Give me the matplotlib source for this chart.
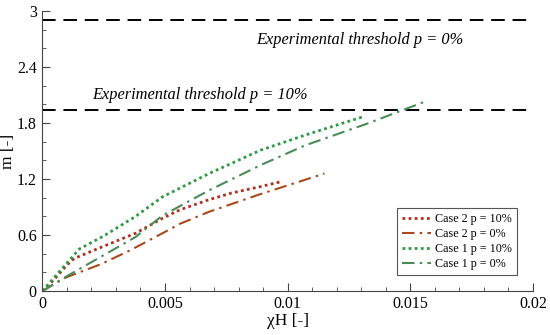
import numpy as np
import matplotlib.pyplot as plt
from matplotlib.ticker import MultipleLocator

case1_p10_x = [0, 0.0005, 0.001, 0.0015, 0.0025, 0.0038, 0.0049, 0.0068, 0.0089, 0.0107, 0.0131]
case1_p10_y = [0, 0.15, 0.30, 0.45, 0.59, 0.80, 1.01, 1.26, 1.51, 1.67, 1.87]

case1_p0_x = [0, 0.001, 0.0024, 0.0038, 0.0049, 0.0068, 0.0089, 0.0107, 0.0132, 0.0146, 0.0156]
case1_p0_y = [0, 0.16, 0.37, 0.58, 0.81, 1.08, 1.35, 1.56, 1.79, 1.93, 2.03]

case2_p10_x = [0, 0.0005, 0.001, 0.0013, 0.0024, 0.0038, 0.0049, 0.0056, 0.0068, 0.0077, 0.0089, 0.0097]
case2_p10_y = [0, 0.13, 0.28, 0.35, 0.47, 0.62, 0.78, 0.87, 0.98, 1.05, 1.12, 1.17]

case2_p0_x = [0, 0.0005, 0.001, 0.0024, 0.0036, 0.0049, 0.0056, 0.0068, 0.0089, 0.0108, 0.0115]
case2_p0_y = [0, 0.08, 0.15, 0.29, 0.44, 0.62, 0.72, 0.85, 1.04, 1.20, 1.26]

threshold_p0 = 2.90
threshold_p10 = 1.94

plt.rcParams['font.family'] = ['Liberation Serif', 'DejaVu Serif']

fig = plt.figure(figsize=(5.5, 3.35), dpi=100)
ax = fig.add_axes([0.077, 0.131, 0.892, 0.836])

ax.plot([0, 0.02], [threshold_p0, threshold_p0], color='black', lw=1.4, dashes=(7, 4))
ax.plot([0, 0.02], [threshold_p10, threshold_p10], color='black', lw=1.4, dashes=(7, 4))
ax.text(0.00872, 2.69, 'Experimental threshold p = 0%', style='italic', fontsize=11.8, va='center')
ax.text(0.00204, 2.10, 'Experimental threshold p = 10%', style='italic', fontsize=11.8, va='center')

ax.plot(case2_p10_x, case2_p10_y, color='#b0301e', lw=2, ls=(0, (1, 1.2)), label='Case 2 p = 10%')
ax.plot(case2_p0_x, case2_p0_y, color='#a84a1c', lw=1.5, ls=(0, (6, 2.5, 1.2, 2.5)), label='Case 2 p = 0%')
ax.plot(case1_p10_x, case1_p10_y, color='#2e9a45', lw=2, ls=(0, (1, 1.2)), label='Case 1 p = 10%')
ax.plot(case1_p0_x, case1_p0_y, color='#4a8c58', lw=1.5, ls=(0, (6, 2.5, 1.2, 2.5)), label='Case 1 p = 0%')

ax.set_xlim(0, 0.02)
ax.set_ylim(0, 3)
ax.set_xticks([0, 0.005, 0.01, 0.015, 0.02])
ax.set_xticklabels(['0', '0.005', '0.01', '0.015', '0.02'])
ax.set_yticks([0, 0.6, 1.2, 1.8, 2.4, 3])
ax.set_yticklabels(['0', '0.6', '1.2', '1.8', '2.4', '3'])
ax.xaxis.set_minor_locator(MultipleLocator(0.001))
ax.yaxis.set_minor_locator(MultipleLocator(0.2))
ax.tick_params(which='both', direction='in', labelsize=11.5, color='#444444')
ax.tick_params(which='major', length=6)
ax.tick_params(which='minor', length=3)
ax.tick_params(axis='y', pad=4)

for s in ['top', 'right']:
    ax.spines[s].set_visible(False)
for s in ['left', 'bottom']:
    ax.spines[s].set_color('#444444')

ax.set_xlabel('χH [-]', fontsize=12.5, labelpad=1)
ax.set_ylabel('m [-]', fontsize=12.5, labelpad=1)

leg = ax.legend(loc='lower right', bbox_to_anchor=(0.967, 0.057), borderaxespad=0,
                fontsize=8.7, fancybox=False, edgecolor='#555555', framealpha=1,
                handlelength=2.4, handletextpad=0.35, borderpad=0.4, labelspacing=0.26)
leg.get_frame().set_linewidth(0.8)

fig.savefig('out.png', dpi=100)
